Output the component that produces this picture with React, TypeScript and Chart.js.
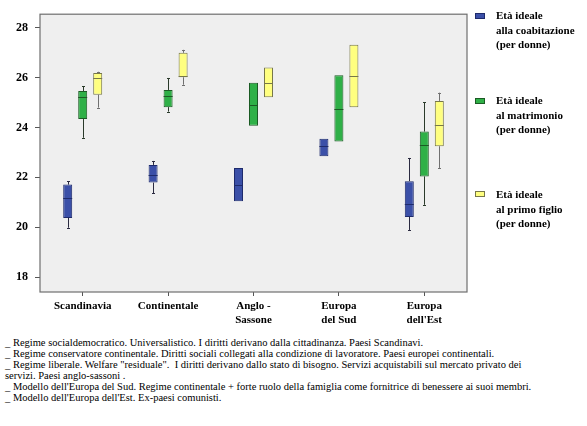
import React, { useEffect, useRef } from "react";
import { Chart, registerables } from "chart.js";

Chart.register(...registerables);

const categories: (string | string[])[] = [
  ["Scandinavia"],
  ["Continentale"],
  ["Anglo -", "Sassone"],
  ["Europa", "del Sud"],
  ["Europa", "dell'Est"],
];

const yTicks = [18, 20, 22, 24, 26, 28];

// Età ideale alla coabitazione (per donne)
const coabMin = [19.98, 21.37, 21.04, 22.85, 19.89];
const coabQ1 = [20.37, 21.79, 21.04, 22.85, 20.41];
const coabMed = [21.18, 22.11, 21.71, 23.24, 20.94];
const coabQ3 = [21.71, 22.5, 22.38, 23.55, 21.85];
const coabMax = [21.85, 22.66, 22.38, 23.55, 22.78];

// Età ideale al matrimonio (per donne)
const matrMin = [23.59, 24.64, 24.07, 23.44, 20.9];
const matrQ1 = [24.34, 24.82, 24.07, 23.44, 22.04];
const matrMed = [25.23, 25.28, 24.92, 24.76, 23.29];
const matrQ3 = [25.47, 25.51, 25.8, 26.1, 23.84];
const matrMax = [25.65, 25.99, 25.8, 26.1, 25.01];

// Età ideale al primo figlio (per donne)
const figlMin = [24.8, 25.72, 25.22, 24.82, 22.38];
const figlQ1 = [25.32, 26.02, 25.22, 24.82, 23.25];
const figlMed = [25.98, 26.05, 25.8, 26.07, 24.09];
const figlQ3 = [26.19, 27.0, 26.41, 27.32, 25.07];
const figlMax = [26.24, 27.12, 26.41, 27.32, 25.4];

const seriesNames = [
  ["Età ideale", "alla coabitazione", "(per donne)"],
  ["Età ideale", "al matrimonio", "(per donne)"],
  ["Età ideale", "al primo figlio", "(per donne)"],
];

const notes = [
  "_ Regime socialdemocratico. Universalistico. I diritti derivano dalla cittadinanza. Paesi Scandinavi.",
  "_ Regime conservatore continentale. Diritti sociali collegati alla condizione di lavoratore. Paesi europei continentali.",
  '_ Regime liberale. Welfare "residuale".  I diritti derivano dallo stato di bisogno. Servizi acquistabili sul mercato privato dei',
  "servizi. Paesi anglo-sassoni .",
  "_ Modello dell'Europa del Sud. Regime continentale + forte ruolo della famiglia come fornitrice di benessere ai suoi membri.",
  "_ Modello dell'Europa dell'Est. Ex-paesi comunisti.",
];

const fills = ["#3b50a8", "#2fb047", "#ffff80"];
const borders = ["#1e2b6c", "#1b5a24", "#77774a"];
const whiskerColors = ["#2a2a40", "#2a3a2a", "#707070"];

const stats = [
  { min: coabMin, q1: coabQ1, med: coabMed, q3: coabQ3, max: coabMax },
  { min: matrMin, q1: matrQ1, med: matrMed, q3: matrQ3, max: matrMax },
  { min: figlMin, q1: figlQ1, med: figlMed, q3: figlQ3, max: figlMax },
];

const FONT = "'Liberation Serif', 'Times New Roman', serif";

const boxPlugin = {
  id: "boxExtras",
  beforeDatasetsDraw(chart: any) {
    const { ctx, chartArea } = chart;
    ctx.save();
    ctx.fillStyle = "#efefef";
    ctx.fillRect(chartArea.left, chartArea.top, chartArea.right - chartArea.left, chartArea.bottom - chartArea.top);
    ctx.strokeStyle = "#6e6e6e";
    ctx.lineWidth = 1.2;
    ctx.strokeRect(chartArea.left, chartArea.top, chartArea.right - chartArea.left, chartArea.bottom - chartArea.top);
    const ys = chart.scales.y;
    stats.forEach((s, di) => {
      const meta = chart.getDatasetMeta(di);
      meta.data.forEach((bar: any, i: number) => {
        const x = Math.round(bar.x) + 0.5;
        ctx.strokeStyle = whiskerColors[di];
        ctx.lineWidth = 1;
        const segs: [number, number][] = [
          [s.q3[i], s.max[i]],
          [s.q1[i], s.min[i]],
        ];
        segs.forEach(([a, b]) => {
          if (Math.abs(a - b) < 0.01) return;
          const ya = ys.getPixelForValue(a);
          const yb = ys.getPixelForValue(b);
          ctx.beginPath();
          ctx.moveTo(x, ya);
          ctx.lineTo(x, yb);
          ctx.stroke();
          ctx.beginPath();
          ctx.moveTo(x - 1.5, Math.round(yb) + 0.5);
          ctx.lineTo(x + 1.5, Math.round(yb) + 0.5);
          ctx.stroke();
        });
      });
    });
    ctx.restore();
  },
  afterDatasetsDraw(chart: any) {
    const { ctx } = chart;
    const ys = chart.scales.y;
    ctx.save();
    stats.forEach((s, di) => {
      const meta = chart.getDatasetMeta(di);
      meta.data.forEach((bar: any, i: number) => {
        const y = Math.round(ys.getPixelForValue(s.med[i])) + 0.5;
        ctx.strokeStyle = borders[di];
        ctx.lineWidth = 1;
        ctx.beginPath();
        ctx.moveTo(bar.x - bar.width / 2, y);
        ctx.lineTo(bar.x + bar.width / 2, y);
        ctx.stroke();
      });
    });
    ctx.restore();
  },
};

export default function App() {
  const ref = useRef<HTMLCanvasElement | null>(null);

  useEffect(() => {
    document.body.style.margin = "0";
    if (!ref.current) return;
    Chart.defaults.font.family = FONT;
    const chart = new Chart(ref.current, {
      type: "bar",
      data: {
        labels: categories,
        datasets: stats.map((s, di) => ({
          label: seriesNames[di].join(" "),
          data: s.q1.map((v, i) => [v, s.q3[i]]),
          backgroundColor: fills[di],
          borderColor: borders[di],
          borderWidth: 1,
          borderSkipped: false,
          barPercentage: 0.6,
          categoryPercentage: 0.527,
        })),
      },
      options: {
        animation: false,
        responsive: false,
        layout: { padding: { top: 9, right: 120, left: 0, bottom: 0 } },
        plugins: { legend: { display: false }, tooltip: { enabled: false } },
        scales: {
          x: {
            offset: true,
            grid: { display: true, drawOnChartArea: false, offset: false, tickLength: 4, color: "#555" },
            border: { display: false },
            ticks: {
              color: "#000",
              font: { size: 11, weight: "bold", family: FONT },
              padding: 4,
              maxRotation: 0,
              autoSkip: false,
            },
            afterFit(scale: any) {
              scale.height = 38;
            },
          },
          y: {
            min: 17.4,
            max: 28.55,
            afterBuildTicks(scale: any) {
              scale.ticks = yTicks.map((v) => ({ value: v }));
            },
            grid: { display: true, drawOnChartArea: false, tickLength: 5, color: "#555" },
            border: { display: false },
            ticks: {
              color: "#000",
              font: { size: 12, weight: "bold", family: FONT },
              padding: 7,
            },
            afterFit(scale: any) {
              scale.width = 40;
            },
          },
        },
      },
      plugins: [boxPlugin],
    });
    return () => chart.destroy();
  }, []);

  const legendTops = [8, 93, 187];
  const squareTops = [13, 98, 191];

  return (
    <div style={{ position: "relative", width: 587, height: 426, background: "#fff", overflow: "hidden" }}>
      <canvas ref={ref} width={587} height={330} style={{ position: "absolute", left: 0, top: 0 }} />
      {seriesNames.map((lines, i) => (
        <React.Fragment key={i}>
          <div
            style={{
              position: "absolute",
              left: 475,
              top: squareTops[i],
              width: 8,
              height: 4,
              background: fills[i],
              border: `1px solid ${borders[i]}`,
            }}
          />
          <div
            style={{
              position: "absolute",
              left: 496,
              top: legendTops[i],
              fontFamily: FONT,
              fontWeight: "bold",
              fontSize: 11,
              lineHeight: "14.5px",
              color: "#000",
              whiteSpace: "pre",
            }}
          >
            {lines.map((l, k) => (
              <div key={k}>{l}</div>
            ))}
          </div>
        </React.Fragment>
      ))}
      <div
        style={{
          position: "absolute",
          left: 5,
          top: 337,
          fontFamily: FONT,
          fontSize: 10.5,
          lineHeight: "11px",
          color: "#000",
          whiteSpace: "pre",
        }}
      >
        {notes.map((n, i) => (
          <div key={i}>{n}</div>
        ))}
      </div>
    </div>
  );
}
